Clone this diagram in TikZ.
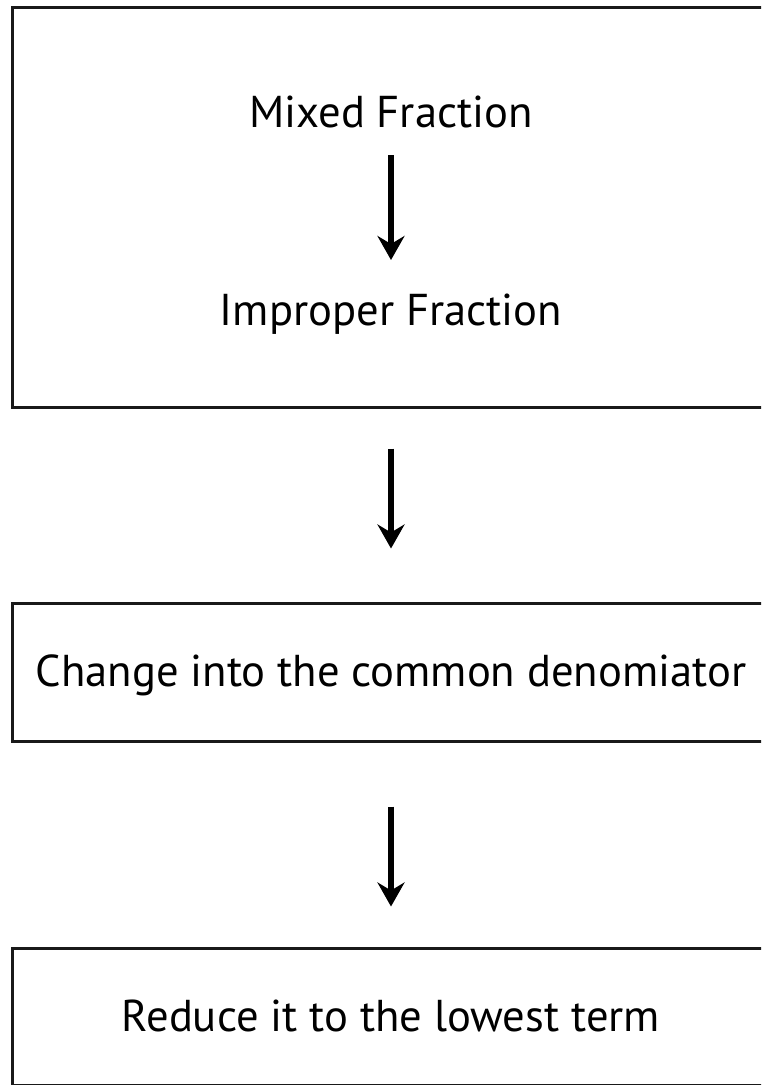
\documentclass[tikz,border=0pt]{standalone}
\usepackage{fontspec}
\setmainfont{PT Sans}
\usetikzlibrary{arrows.meta}
\begin{document}
\begin{tikzpicture}[x=1pt,y=-1pt,
  panel/.style={draw=black!90, line width=3pt, rectangle, inner sep=0pt},
  label/.style={font=\fontsize{44.6}{52}\selectfont, anchor=base, inner sep=0pt},
  flow/.style={line width=6pt, -{Stealth[length=24pt, width=27pt, inset=8pt]}}]
  \useasboundingbox (0,0) rectangle (761,1085);
  \clip (0,0) rectangle (761,1085);
  % outer boxes
  \node[panel, minimum width=758pt, minimum height=400pt] (b1) at (391,207) {};
  \node[panel, minimum width=758pt, minimum height=138pt] (b2) at (391,672) {};
  \node[panel, minimum width=758pt, minimum height=137pt] (b3) at (391,1016.5) {};
  % texts
  \node[label] (t1) at (391,127) {Mixed Fraction};
  \node[label] (t2) at (391,325) {Improper Fraction};
  \node[label] (t3) at (391,686) {Change into the common denomiator};
  \node[label] (t4) at (391,1031) {Reduce it to the lowest term};
  % arrows
  \draw[flow, shorten <=28pt, shorten >=65pt] (t1.base) -- (t2.base);
  \draw[flow, shorten <=40pt, shorten >=53pt] (b1.south) -- (b2.north);
  \draw[flow, shorten <=64pt, shorten >=40pt] (b2.south) -- (b3.north);
\end{tikzpicture}
\end{document}
